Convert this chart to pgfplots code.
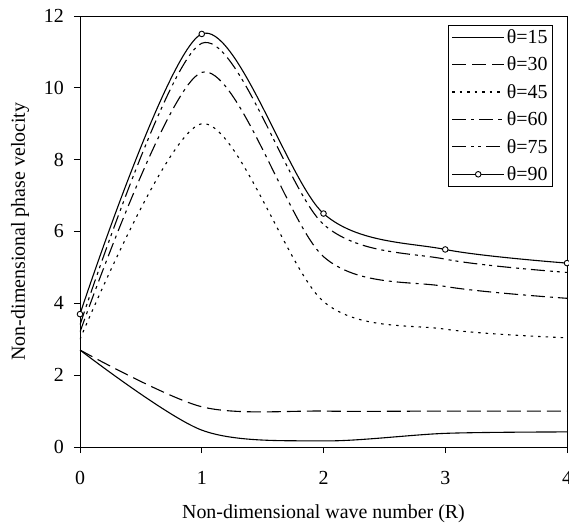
\documentclass[border=0pt]{standalone}
\usepackage{fontspec}
\setmainfont{Liberation Serif}
\usepackage{pgfplots}
\pgfplotsset{compat=1.18}
\newcommand{\ff}{\fontsize{20}{24}\selectfont}
\begin{document}
\begin{tikzpicture}[x=1bp,y=1bp]
\begin{axis}[
  name=main,
  scale only axis,
  width=487bp, height=431bp,
  xmin=0, xmax=4, ymin=0, ymax=12,
  xtick={0,1,2,3,4}, ytick={0,2,4,6,8,10,12},
  xtick pos=bottom, ytick pos=left,
  tick align=outside, major tick length=6bp,
  axis line style={line width=0.9bp},
  every tick/.style={line width=0.9bp, black},
  /pgf/number format/assume math mode=true,
  tick label style={font=\ff},
  xticklabel style={anchor=center, yshift=-25bp},
  yticklabel style={anchor=east, xshift=-10bp, inner sep=0pt},
  xlabel={Non-dimensional wave number (R)},
  ylabel={Non-dimensional phase velocity},
  label style={font=\ff},
  xlabel style={at={(rel axis cs:0.5,0)}, anchor=center, yshift=-67bp, inner sep=0pt},
  ylabel style={at={(rel axis cs:0,0.5)}, anchor=center, yshift=60bp, inner sep=0pt},
  legend cell align=left,
  legend image code/.code={\draw[mark repeat=2,mark phase=2,#1] plot coordinates {(0bp,0bp) (26bp,0bp) (52bp,0bp)};},
  legend style={at={(rel axis cs:0.971,0.979)}, anchor=north east, draw=black, line width=0.8bp,
    font=\ff, inner xsep=3bp, inner ysep=2bp, row sep=8bp,
    nodes={inner xsep=2bp, inner ysep=2bp}},
  every axis plot/.append style={line width=1.1bp, black, smooth},
]
\addplot[solid] coordinates {(0,2.7) (1,0.47) (2,0.17) (3,0.38) (4,0.42)};
\addlegendentry{θ=15}
\addplot[dash pattern=on 14bp off 6bp] coordinates {(0,2.7) (1,1.12) (2,1.0) (3,1.0) (4,1.0)};
\addlegendentry{θ=30}
\addplot[dash pattern=on 2.5bp off 5bp] coordinates {(0,3.0) (1,9.0) (2,4.05) (3,3.28) (4,3.04)};
\addlegendentry{θ=45}
\addplot[dash pattern=on 14bp off 5bp on 3bp off 5bp] coordinates {(0,3.2) (1,10.43) (2,5.3) (3,4.47) (4,4.14)};
\addlegendentry{θ=60}
\addplot[dash pattern=on 14bp off 5bp on 3bp off 4bp on 3bp off 5bp] coordinates {(0,3.4) (1,11.24) (2,6.2) (3,5.23) (4,4.86)};
\addlegendentry{θ=75}
\addplot[solid, mark=*, mark size=2.8bp, mark options={fill=white, line width=0.9bp, solid}] coordinates {(0,3.7) (1,11.5) (2,6.5) (3,5.5) (4,5.12)};
\addlegendentry{θ=90}
\end{axis}
\pgfresetboundingbox
\path (main.south west) ++(-80bp,-79bp) rectangle ++(569bp,526bp);
\end{tikzpicture}
\end{document}
